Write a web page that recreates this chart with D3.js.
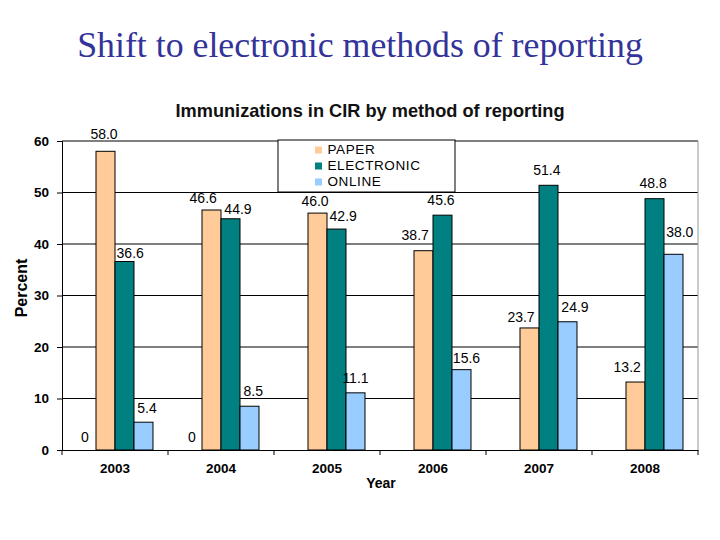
<!DOCTYPE html>
<html>
<head>
<meta charset="utf-8">
<script src="https://cdn.jsdelivr.net/npm/d3@7"></script>
<style>
  body { margin: 0; background: #fff; }
  svg { display: block; }
</style>
</head>
<body>
<svg id="chart" width="720" height="540"></svg>
<script>
const years = ["2003", "2004", "2005", "2006", "2007", "2008"];
const seriesNames = ["OTHER", "PAPER", "ELECTRONIC", "ONLINE"];
const other = [0, 0, null, null, null, null];
const paper = [58.0, 46.6, 46.0, 38.7, 23.7, 13.2];
const electronic = [36.6, 44.9, 42.9, 45.6, 51.4, 48.8];
const online = [5.4, 8.5, 11.1, 15.6, 24.9, 38.0];
const yTicks = [0, 10, 20, 30, 40, 50, 60];
const colors = { OTHER: "none", PAPER: "#FFCC99", ELECTRONIC: "#008080", ONLINE: "#99CCFF" };

const values = { OTHER: other, PAPER: paper, ELECTRONIC: electronic, ONLINE: online };

// hand-placed label offsets (px): horizontal shift, gap above bar top
const labelDx = {
  OTHER: [-1.5, -0.5, 0, 0, 0, 0],
  PAPER: [-1.5, -8.3, -2.5, -8.3, -8.5, -8.3],
  ELECTRONIC: [5.7, 7.5, 6.7, -1.5, -1.7, -1.4],
  ONLINE: [3.5, 3.7, 0, 5, 7.5, 6.3]
};
const labelGap = {
  OTHER: [8, 8, 0, 0, 0, 0],
  PAPER: [12.7, 7.4, 6.7, 10.7, 5.7, 10],
  ELECTRONIC: [4, 5, 7.7, 10, 10, 11],
  ONLINE: [9, 10.7, 10, 6.7, 10, 17.6]
};

const FONT = "'Liberation Sans', Arial, sans-serif";
const svg = d3.select("#chart");
const m = { left: 62, right: 22, top: 141, bottom: 90 };
const W = 720 - m.left - m.right;
const H = 540 - m.top - m.bottom;

// slide title
svg.append("text")
  .attr("x", 360).attr("y", 57)
  .attr("text-anchor", "middle")
  .attr("font-family", "'Liberation Serif', 'Times New Roman', serif")
  .attr("font-size", 35.8)
  .attr("fill", "#333399")
  .text("Shift to electronic methods of reporting");

// chart title
svg.append("text")
  .attr("x", 370).attr("y", 117)
  .attr("text-anchor", "middle")
  .attr("font-family", FONT)
  .attr("font-size", 18.2)
  .attr("font-weight", "bold")
  .attr("fill", "#111")
  .text("Immunizations in CIR by method of reporting");

const g = svg.append("g").attr("transform", `translate(${m.left},${m.top})`);

const x0 = d3.scaleBand().domain(years).range([0, W]).paddingInner(0).paddingOuter(0);
const x1 = d3.scaleBand().domain(seriesNames).range([0, x0.bandwidth()]).paddingInner(0).paddingOuter(0.79);
const y = d3.scaleLinear().domain([0, 60]).range([H, 0]);

// gridlines
g.append("g")
  .selectAll("line")
  .data(yTicks.filter(d => d > 0))
  .join("line")
  .attr("x1", 0).attr("x2", W)
  .attr("y1", d => y(d)).attr("y2", d => y(d))
  .attr("stroke", "#000").attr("stroke-width", 1);

// right border
g.append("line")
  .attr("x1", W).attr("x2", W).attr("y1", 0).attr("y2", H)
  .attr("stroke", "#999");

// bars
const rows = [];
years.forEach((yr, i) => {
  seriesNames.forEach(s => {
    rows.push({ year: yr, series: s, value: values[s][i], i: i });
  });
});

g.append("g")
  .selectAll("rect")
  .data(rows.filter(d => d.value != null && d.series !== "OTHER"))
  .join("rect")
  .attr("x", d => x0(d.year) + x1(d.series))
  .attr("y", d => y(d.value))
  .attr("width", x1.bandwidth())
  .attr("height", d => H - y(d.value))
  .attr("fill", d => colors[d.series])
  .attr("stroke", "#000")
  .attr("stroke-width", 1);

// data labels
g.append("g")
  .selectAll("text")
  .data(rows.filter(d => d.value != null))
  .join("text")
  .attr("x", d => x0(d.year) + x1(d.series) + x1.bandwidth() / 2 + labelDx[d.series][d.i])
  .attr("y", d => y(d.value) - labelGap[d.series][d.i])
  .attr("text-anchor", "middle")
  .attr("font-family", FONT)
  .attr("font-size", 14)
  .attr("fill", "#000")
  .text(d => d.value === 0 ? "0" : d.value.toFixed(1));

// axes
const yAxis = g.append("g")
  .call(d3.axisLeft(y).tickValues(yTicks).tickSize(5).tickPadding(8).tickFormat(d3.format("d")));
yAxis.select(".domain").attr("stroke", "#000");
yAxis.selectAll("text")
  .attr("font-family", FONT)
  .attr("font-size", 13.5).attr("font-weight", "bold").attr("fill", "#000");

const xAxis = g.append("g")
  .attr("transform", `translate(0,${H})`)
  .call(d3.axisBottom(x0).tickSize(0).tickPadding(13));
xAxis.select(".domain").attr("stroke", "#000");
xAxis.selectAll("text")
  .attr("font-family", FONT)
  .attr("font-size", 13.5).attr("font-weight", "bold").attr("fill", "#000");
xAxis.append("g")
  .selectAll("line")
  .data(years.map(d => x0(d)).concat([W]))
  .join("line")
  .attr("x1", d => d).attr("x2", d => d)
  .attr("y1", 0).attr("y2", 5)
  .attr("stroke", "#000");

// axis titles
svg.append("text")
  .attr("transform", "translate(27,288) rotate(-90)")
  .attr("text-anchor", "middle")
  .attr("font-family", FONT)
  .attr("font-size", 16).attr("font-weight", "bold")
  .text("Percent");

svg.append("text")
  .attr("x", 381).attr("y", 488)
  .attr("text-anchor", "middle")
  .attr("font-family", FONT)
  .attr("font-size", 14).attr("font-weight", "bold")
  .text("Year");

// legend
const legend = svg.append("g").attr("transform", "translate(278,140)");
legend.append("rect")
  .attr("width", 177).attr("height", 52)
  .attr("fill", "#fff").attr("stroke", "#000");
const items = legend.selectAll("g.item")
  .data(seriesNames.filter(s => s !== "OTHER"))
  .join("g")
  .attr("class", "item")
  .attr("transform", (d, i) => `translate(37,${14 + i * 16})`);
items.append("rect")
  .attr("y", -7.5)
  .attr("width", 7).attr("height", 7)
  .attr("fill", d => colors[d]);
items.append("text")
  .attr("x", 12.5).attr("y", 0)
  .attr("font-family", FONT)
  .attr("font-size", 13.5)
  .attr("letter-spacing", 0.6)
  .attr("fill", "#000")
  .text(d => d);
</script>
</body>
</html>
